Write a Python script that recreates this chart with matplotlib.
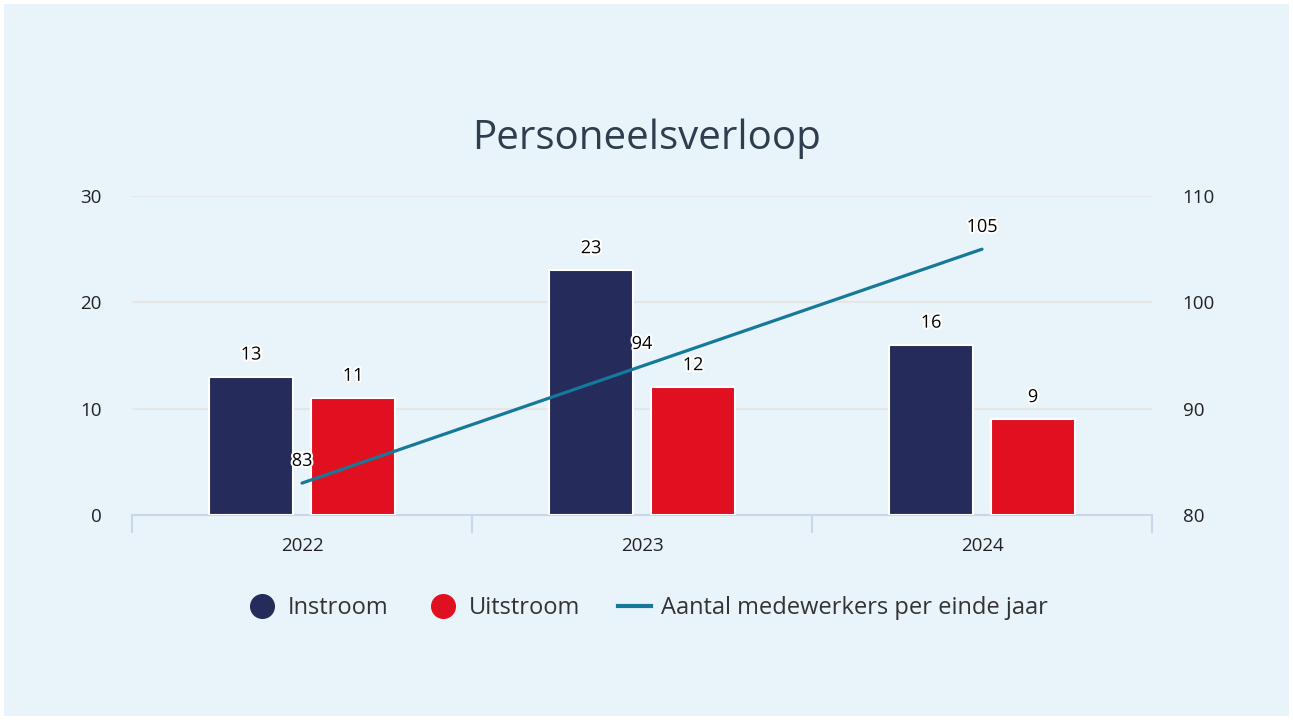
import matplotlib.pyplot as plt
import matplotlib.patheffects as pe
from matplotlib.lines import Line2D
from matplotlib.patches import Rectangle
import numpy as np

plt.rcParams['font.family'] = ['Open Sans', 'DejaVu Sans']

years = ['2022', '2023', '2024']
instroom = [13, 23, 16]
uitstroom = [11, 12, 9]
medewerkers = [83, 94, 105]

navy = '#252c5b'
red = '#e01021'
teal = '#16799a'
bg = '#e8f3fa'

fig = plt.figure(figsize=(12.93, 7.2), dpi=100, facecolor='white')
fig.patches.append(Rectangle((4 / 1293, 4 / 720), 1285 / 1293, 712 / 720,
                             transform=fig.transFigure, facecolor=bg,
                             edgecolor='none', zorder=-10))

ax = fig.add_axes([132 / 1293, 1 - 515 / 720, 1020 / 1293, 319 / 720])
ax.set_facecolor('none')
ax2 = ax.twinx()

x = np.arange(len(years))
w = 0.245
off = 0.15
halo = [pe.withStroke(linewidth=3, foreground='white')]

b1 = ax.bar(x - off, instroom, w, color=navy, edgecolor='white', linewidth=1.5, zorder=3)
b2 = ax.bar(x + off, uitstroom, w, color=red, edgecolor='white', linewidth=1.5, zorder=3)
for bars, vals in ((b1, instroom), (b2, uitstroom)):
    for r, v in zip(bars, vals):
        ax.annotate(str(v), (r.get_x() + r.get_width() / 2, v), xytext=(0, 16),
                    textcoords='offset points', ha='center', va='center',
                    fontsize=13, color='black', path_effects=halo, zorder=5)

ax.set_xlim(-0.5, 2.5)
ax.set_ylim(0, 30)
ax.set_yticks([0, 10, 20, 30])
ax.grid(axis='y', color='#e6e6e6', linewidth=1.5, zorder=0)
ax.set_axisbelow(True)
ax.set_xticks(x)
ax.set_xticklabels(years)
ax.set_xticks([-0.5, 0.5, 1.5, 2.5], minor=True)
ax.tick_params(axis='x', which='major', length=0, pad=16, labelsize=13.5, labelcolor='#222222')
ax.tick_params(axis='x', which='minor', length=13, width=1.5, color='#ccd6eb', direction='out')
ax.tick_params(axis='y', length=0, pad=22, labelsize=13.5, labelcolor='#222222')
for s in ('top', 'left', 'right'):
    ax.spines[s].set_visible(False)
ax.spines['bottom'].set_color('#ccd6eb')
ax.spines['bottom'].set_linewidth(1.5)

ax2.plot(x, medewerkers, color=teal, linewidth=2.3, solid_capstyle='round', zorder=4)
for xi, v in zip(x, medewerkers):
    ax2.annotate(str(v), (xi, v), xytext=(0, 16), textcoords='offset points',
                 ha='center', va='center', fontsize=13, color='black',
                 path_effects=halo, zorder=5)
ax2.set_ylim(80, 110)
ax2.set_yticks([80, 90, 100, 110])
ax2.tick_params(axis='y', length=0, pad=22, labelsize=13.5, labelcolor='#222222')
for s in ax2.spines.values():
    s.set_visible(False)

fig.text(0.5, 1 - 139 / 720, 'Personeelsverloop', ha='center', va='center',
         fontsize=29, color='#2f3e4e')

handles = [
    Line2D([], [], marker='o', linestyle='none', markersize=17, color=navy),
    Line2D([], [], marker='o', linestyle='none', markersize=17, color=red),
    Line2D([], [], color=teal, linewidth=3),
]
fig.legend(handles, ['Instroom', 'Uitstroom', 'Aantal medewerkers per einde jaar'],
           loc='center', bbox_to_anchor=(0.5, 1 - 608 / 720), ncol=3, frameon=False,
           fontsize=17, labelcolor='#333333', handlelength=1.4, handletextpad=0.4,
           columnspacing=1.6)

fig.savefig('out.png', dpi=100, facecolor=fig.get_facecolor())
